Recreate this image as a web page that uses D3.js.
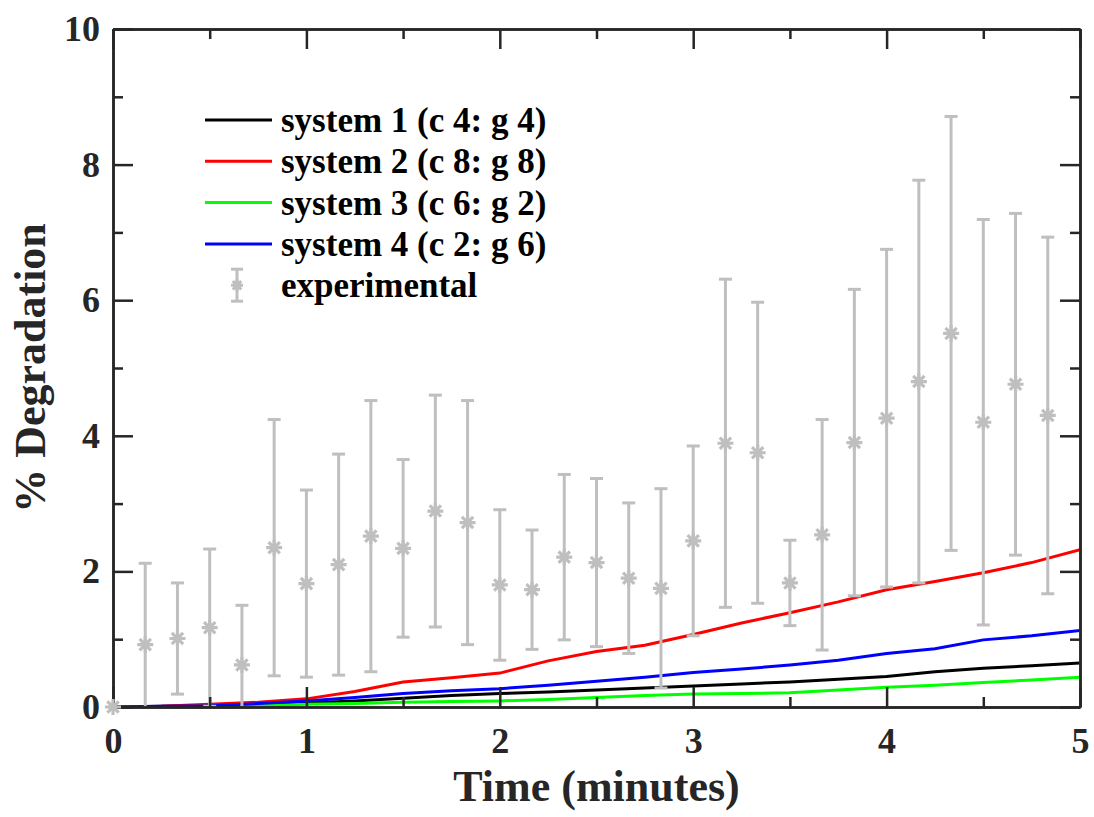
<!DOCTYPE html>
<html>
<head>
<meta charset="utf-8">
<script src="https://cdn.jsdelivr.net/npm/d3@7"></script>
<style>
  body { margin: 0; background: #fff; }
  svg text { font-family: "Liberation Serif", "Times New Roman", serif; font-weight: bold; }
</style>
</head>
<body>
<div class="container"></div>
<script>
// degradation vs time, four model systems + experimental points

const timeGrid = [0, 0.25, 0.5, 0.75, 1, 1.25, 1.5, 1.75, 2, 2.25, 2.5, 2.75, 3, 3.25, 3.5, 3.75, 4, 4.25, 4.5, 4.75, 5];

const system1 = [0, 0.01, 0.02, 0.04, 0.06, 0.09, 0.13, 0.17, 0.20, 0.22, 0.25, 0.28, 0.31, 0.34, 0.37, 0.41, 0.45, 0.52, 0.57, 0.61, 0.65];
const system2 = [0, 0.01, 0.04, 0.07, 0.12, 0.23, 0.37, 0.43, 0.50, 0.68, 0.82, 0.91, 1.07, 1.24, 1.39, 1.55, 1.73, 1.85, 1.98, 2.13, 2.32];
const system3 = [0, 0.005, 0.01, 0.02, 0.04, 0.05, 0.07, 0.08, 0.09, 0.11, 0.14, 0.17, 0.19, 0.20, 0.21, 0.25, 0.29, 0.32, 0.36, 0.40, 0.44];
const system4 = [0, 0.01, 0.02, 0.05, 0.09, 0.14, 0.20, 0.24, 0.27, 0.32, 0.38, 0.44, 0.51, 0.56, 0.62, 0.69, 0.79, 0.86, 0.99, 1.05, 1.13];

const seriesNames = ["system 1 (c 4: g 4)", "system 2 (c 8: g 8)", "system 3 (c 6: g 2)", "system 4 (c 2: g 6)"];
const seriesColors = ["#000000", "#ff0000", "#00ff00", "#0000ff"];

// experimental: sampled every 10 s
const expTime = d3.range(30).map(i => i / 6);
const expMean = [0, 0.92, 1.01, 1.17, 0.62, 2.35, 1.82, 2.10, 2.52, 2.34, 2.89, 2.72, 1.80, 1.73, 2.21,
                 2.13, 1.90, 1.75, 2.45, 3.89, 3.75, 1.83, 2.54, 3.90, 4.26, 4.80, 5.51, 4.20, 4.76, 4.30];
const expErr = [0, 1.20, 0.82, 1.16, 0.88, 1.89, 1.38, 1.63, 2.00, 1.31, 1.71, 1.80, 1.11, 0.88, 1.22,
                1.24, 1.11, 1.47, 1.40, 2.42, 2.22, 0.63, 1.70, 2.26, 2.49, 2.97, 3.20, 2.99, 2.52, 2.63];

const xTicks = [0, 1, 2, 3, 4, 5];
const yTicks = [0, 2, 4, 6, 8, 10];

const W = 1094, H = 817;
const margin = { top: 29, right: 14, bottom: 110, left: 113 };
const w = W - margin.left - margin.right;
const h = H - margin.top - margin.bottom;
const axisColor = "#262626";
const errColor = "#bfbfbf";

const x = d3.scaleLinear().domain([0, 5]).range([0, w]);
const y = d3.scaleLinear().domain([0, 10]).range([h, 0]);

const svg = d3.select(".container").append("svg")
  .attr("width", W).attr("height", H);

const g = svg.append("g").attr("transform", `translate(${margin.left},${margin.top})`);

g.append("clipPath").attr("id", "clip")
  .append("rect").attr("width", w).attr("height", h);

const plot = g.append("g").attr("clip-path", "url(#clip)");

// model lines
const series = [system1, system2, system3, system4];
const line = d3.line().x(d => x(d[0])).y(d => y(d[1]));
series.forEach((vals, k) => {
  plot.append("path")
    .datum(timeGrid.map((t, i) => [t, vals[i]]))
    .attr("d", line)
    .attr("fill", "none")
    .attr("stroke", seriesColors[k])
    .attr("stroke-width", 3);
});

// asterisk marker like matlab '*'
const star = (r) => {
  const d = r * 0.7071;
  return `M${-r},0L${r},0M0,${-r}L0,${r}M${-d},${-d}L${d},${d}M${-d},${d}L${d},${-d}`;
};

const expData = expTime.map((t, i) => ({ t: t, m: expMean[i], e: expErr[i] }));
const cap = 6.5;
const eb = plot.append("g").selectAll("g")
  .data(expData.filter(d => d.e > 0))
  .join("g")
  .attr("stroke", errColor).attr("stroke-width", 3).attr("fill", "none");
eb.append("line")
  .attr("x1", d => x(d.t)).attr("x2", d => x(d.t))
  .attr("y1", d => y(d.m - d.e)).attr("y2", d => y(d.m + d.e));
eb.append("line")
  .attr("x1", d => x(d.t) - cap).attr("x2", d => x(d.t) + cap)
  .attr("y1", d => y(d.m + d.e)).attr("y2", d => y(d.m + d.e));
eb.append("line")
  .attr("x1", d => x(d.t) - cap).attr("x2", d => x(d.t) + cap)
  .attr("y1", d => y(d.m - d.e)).attr("y2", d => y(d.m - d.e));

// axes (box, ticks pointing inward)
const styleAxis = (sel) => {
  sel.selectAll("path.domain").attr("stroke", axisColor).attr("stroke-width", 2.5);
  sel.selectAll(".tick line").attr("stroke", axisColor).attr("stroke-width", 2.5);
  sel.selectAll(".tick text").attr("fill", axisColor).style("font-size", "36px");
};

const minorX = [0.5, 1.5, 2.5, 3.5, 4.5];
const minorY = [1, 3, 5, 7, 9];

g.append("g").attr("transform", `translate(0,${h})`)
  .call(d3.axisBottom(x).tickValues(minorX).tickSize(-10).tickSizeOuter(0).tickFormat(""))
  .call(styleAxis);
g.append("g").attr("transform", `translate(0,${h})`)
  .call(d3.axisBottom(x).tickValues(xTicks).tickSize(-20).tickSizeOuter(0).tickPadding(20).tickFormat(d3.format("d")))
  .call(styleAxis);
g.append("g")
  .call(d3.axisTop(x).tickValues(minorX).tickSize(-10).tickSizeOuter(0).tickFormat(""))
  .call(styleAxis);
g.append("g")
  .call(d3.axisTop(x).tickValues(xTicks).tickSize(-20).tickSizeOuter(0).tickFormat(""))
  .call(styleAxis);

g.append("g")
  .call(d3.axisLeft(y).tickValues(minorY).tickSize(-10).tickSizeOuter(0).tickFormat(""))
  .call(styleAxis);
g.append("g")
  .call(d3.axisLeft(y).tickValues(yTicks).tickSize(-20).tickSizeOuter(0).tickPadding(13).tickFormat(d3.format("d")))
  .call(styleAxis);
g.append("g").attr("transform", `translate(${w},0)`)
  .call(d3.axisRight(y).tickValues(minorY).tickSize(-10).tickSizeOuter(0).tickFormat(""))
  .call(styleAxis);
g.append("g").attr("transform", `translate(${w},0)`)
  .call(d3.axisRight(y).tickValues(yTicks).tickSize(-20).tickSizeOuter(0).tickFormat(""))
  .call(styleAxis);

// markers on top, so the one at the origin shows over the axes
g.append("g").selectAll("path")
  .data(expData)
  .join("path")
  .attr("transform", d => `translate(${x(d.t)},${y(d.m)})`)
  .attr("d", star(8))
  .attr("stroke", errColor).attr("stroke-width", 3.2).attr("fill", "none");

// axis titles
svg.append("text")
  .attr("x", margin.left + w / 2).attr("y", 801)
  .attr("text-anchor", "middle")
  .attr("fill", axisColor)
  .style("font-size", "44px")
  .text("Time (minutes)");

svg.append("text")
  .attr("transform", `translate(45,${margin.top + h / 2}) rotate(-90)`)
  .attr("text-anchor", "middle")
  .attr("fill", axisColor)
  .style("font-size", "44px")
  .text("% Degradation");

// legend
const legend = svg.append("g");
const ly0 = 120, lstep = 41.3;
seriesNames.forEach((name, k) => {
  const yy = ly0 + k * lstep;
  legend.append("line")
    .attr("x1", 205).attr("x2", 272).attr("y1", yy).attr("y2", yy)
    .attr("stroke", seriesColors[k]).attr("stroke-width", 3);
  legend.append("text")
    .attr("x", 281).attr("y", yy + 12)
    .style("font-size", "35px")
    .text(name);
});
const ey = ly0 + 4 * lstep;
const lg = legend.append("g").attr("stroke", errColor).attr("stroke-width", 3).attr("fill", "none");
lg.append("line").attr("x1", 237).attr("x2", 237).attr("y1", ey - 16).attr("y2", ey + 16);
lg.append("line").attr("x1", 231).attr("x2", 243).attr("y1", ey - 16).attr("y2", ey - 16);
lg.append("line").attr("x1", 231).attr("x2", 243).attr("y1", ey + 16).attr("y2", ey + 16);
lg.append("path").attr("transform", `translate(237,${ey})`).attr("d", star(6));
legend.append("text")
  .attr("x", 281).attr("y", ey + 12)
  .style("font-size", "35px")
  .text("experimental");
</script>
</body>
</html>
